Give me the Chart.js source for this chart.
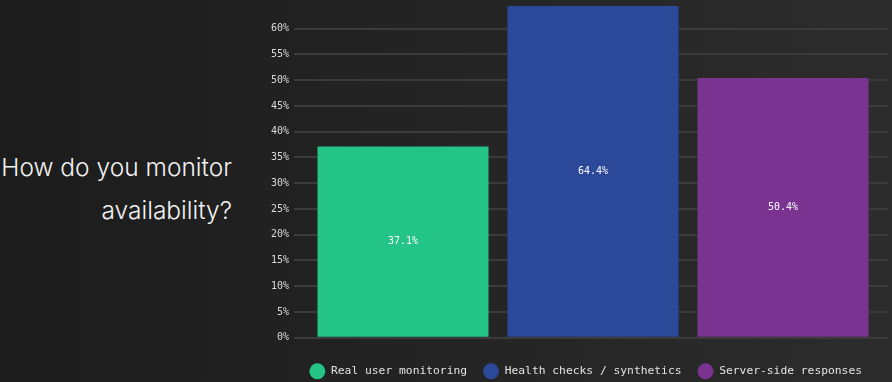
<!DOCTYPE html>
<html>
<head>
<meta charset="utf-8">
<script src="https://cdn.jsdelivr.net/npm/chart.js@4"></script>
<style>
  html, body { margin: 0; padding: 0; }
  body {
    width: 892px; height: 382px; overflow: hidden; position: relative;
    background: linear-gradient(to right, #1c1c1c, #2c2c2c);
  }
  #title {
    position: absolute; left: 0; width: 232px; top: 146px;
    text-align: right; color: #f2f2f2;
    font-family: Inter, "Open Sans", sans-serif; font-weight: 300;
    font-size: 24.5px; line-height: 43px;
  }
  #wrap { position: absolute; left: 0; top: 0; width: 892px; height: 382px; }
</style>
</head>
<body>
<div id="title">How do you monitor<br>availability?</div>
<div id="wrap"><canvas id="myChart"></canvas></div>
<script>
// data
const categories = ['Real user monitoring', 'Health checks / synthetics', 'Server-side responses'];
const values = [37.1, 64.4, 50.4];
const barColors = ['#23c486', '#2c4899', '#7a3391'];

const mono = '"DejaVu Sans Mono", monospace';

// write the percentage in the middle of each bar
const barLabels = {
  id: 'barLabels',
  afterDatasetsDraw(chart) {
    const ctx = chart.ctx;
    ctx.save();
    ctx.fillStyle = '#ffffff';
    ctx.font = '10px ' + mono;
    ctx.textAlign = 'center';
    ctx.textBaseline = 'middle';
    chart.data.datasets.forEach((ds, i) => {
      const meta = chart.getDatasetMeta(i);
      meta.data.forEach((bar, j) => {
        const v = ds.data[j];
        if (v == null) return;
        ctx.fillText(v.toFixed(1) + '%', bar.x, (bar.y + bar.base) / 2);
      });
    });
    ctx.restore();
  }
};

// grid lines run a little past the right edge of the plot
const gridTail = {
  id: 'gridTail',
  beforeDatasetsDraw(chart) {
    const ctx = chart.ctx;
    const y = chart.scales.y;
    const a = chart.chartArea;
    ctx.save();
    ctx.strokeStyle = '#3b3b3b';
    ctx.lineWidth = 2;
    y.ticks.forEach((t) => {
      const py = Math.round(y.getPixelForValue(t.value));
      ctx.beginPath();
      ctx.moveTo(a.right, py);
      ctx.lineTo(a.right + 10, py);
      ctx.stroke();
    });
    ctx.restore();
  }
};

// one dataset per category so the legend shows each bar
const datasets = categories.map((c, i) => ({
  label: c,
  data: categories.map((_, j) => (j === i ? values[i] : null)),
  backgroundColor: barColors[i],
  borderWidth: 0,
  grouped: false,
  barPercentage: 0.9,
  categoryPercentage: 1.0
}));

new Chart(document.getElementById('myChart'), {
  type: 'bar',
  data: { labels: categories, datasets: datasets },
  options: {
    responsive: true,
    maintainAspectRatio: false,
    animation: false,
    layout: { padding: { left: 240, right: 14, top: 6, bottom: -5 } },
    scales: {
      x: {
        display: true,
        afterFit: (scale) => { scale.height = 12; },
        ticks: { display: false },
        grid: { display: false },
        border: { display: false }
      },
      y: {
        min: 0,
        max: 64.4,
        afterFit: (scale) => {
          scale.width = 68;
          scale.paddingTop = 0;
          scale.paddingBottom = 0;
        },
        afterBuildTicks: (scale) => {
          scale.ticks = scale.ticks.filter((t) => t.value % 5 === 0);
        },
        border: { display: false },
        grid: { color: '#3b3b3b', lineWidth: 2, drawTicks: true, tickLength: 14 },
        ticks: {
          stepSize: 5,
          padding: 5,
          color: '#dadada',
          font: { family: mono, size: 10 },
          callback: (v) => v + '%'
        }
      }
    },
    plugins: {
      legend: {
        position: 'bottom',
        align: 'end',
        labels: {
          usePointStyle: true,
          pointStyle: 'circle',
          pointStyleWidth: 16,
          boxHeight: 16,
          padding: 16,
          color: '#e2e2e2',
          font: { family: mono, size: 11.3 }
        }
      },
      tooltip: { enabled: false }
    }
  },
  plugins: [barLabels, gridTail]
});
</script>
</body>
</html>
